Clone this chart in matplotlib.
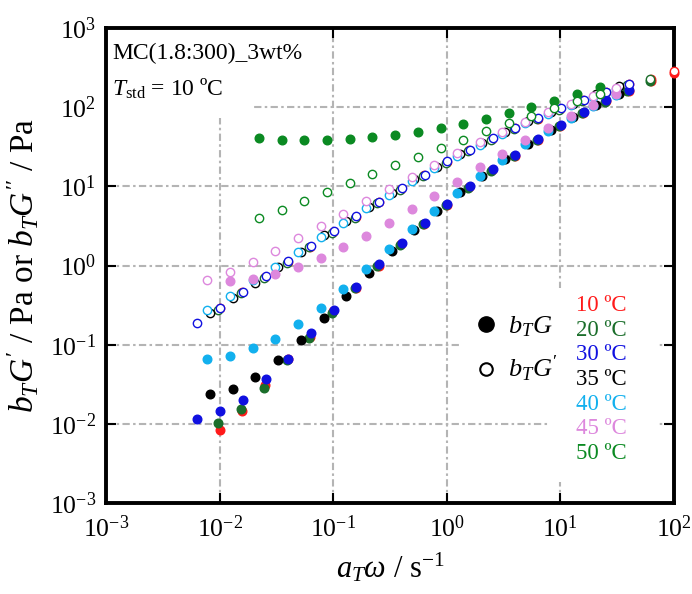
import matplotlib
matplotlib.use('Agg')
import matplotlib.pyplot as plt
from matplotlib.lines import Line2D
from matplotlib.patches import Rectangle
from matplotlib.ticker import FixedLocator, LogFormatterMathtext, NullLocator
import numpy as np

plt.rcParams['font.family'] = ['Liberation Serif', 'DejaVu Serif']
plt.rcParams['mathtext.fontset'] = 'custom'
plt.rcParams['mathtext.rm'] = 'Liberation Serif'
plt.rcParams['mathtext.it'] = 'Liberation Serif:italic'
plt.rcParams['mathtext.bf'] = 'Liberation Serif:bold'

# ---------------- data ----------------
temps = ['10 ºC', '20 ºC', '30 ºC', '35 ºC', '40 ºC', '45 ºC', '50 ºC']
colors = ['#FF1A1A', '#1B6E2B', '#1010E0', '#000000', '#12B0EE', '#DD88DD', '#0B8A22']
x_ticks = [1e-3, 1e-2, 1e-1, 1e0, 1e1, 1e2]
y_ticks = [1e-3, 1e-2, 1e-1, 1e0, 1e1, 1e2, 1e3]

x_10 = [0.0100, 0.0158, 0.0251, 0.0398, 0.0631, 0.100, 0.158, 0.251, 0.398, 0.631, 1.00,
        1.58, 2.51, 3.98, 6.31, 10.0, 15.8, 25.1, 39.8, 63.1, 100]
g1_10 = [0.0084, 0.0146, 0.0308, 0.0654, 0.126, 0.264, 0.522, 1.00, 1.86, 3.35, 5.85,
         9.86, 16.2, 24.4, 38.9, 58.5, 84.5, 118, 161, 213, 272]
g2_10 = [0.291, 0.457, 0.718, 1.11, 1.73, 2.67, 4.12, 6.25, 9.29, 13.8, 20.1,
         28.5, 39.7, 54.0, 71.6, 94.9, 122, 154, 194, 229, 283]

x_20 = [0.00977, 0.0155, 0.0245, 0.0389, 0.0617, 0.0977, 0.155, 0.245, 0.389, 0.617,
        0.977, 1.55, 2.45, 3.89, 6.17, 9.77, 15.5, 24.5, 38.9, 61.7]
g1_20 = [0.0101, 0.0153, 0.0286, 0.0635, 0.120, 0.254, 0.514, 0.982, 1.82, 3.30,
         5.73, 9.66, 15.8, 24.1, 38.4, 57.5, 83.3, 117, 159, 213]
g2_20 = [0.274, 0.445, 0.687, 1.06, 1.71, 2.60, 4.02, 6.10, 9.06, 13.5,
         19.7, 27.9, 38.7, 52.8, 70.0, 92.5, 119, 150, 189, 225]

x_30 = [0.00637, 0.0101, 0.0160, 0.0254, 0.0402, 0.0637, 0.101, 0.160, 0.254, 0.402,
        0.637, 1.01, 1.60, 2.54, 4.02, 6.37, 10.1, 16.0, 25.4, 40.2]
g1_30 = [0.0115, 0.0145, 0.0198, 0.0364, 0.0650, 0.141, 0.272, 0.537, 1.03, 1.91,
         3.44, 6.01, 10.1, 16.6, 25.2, 40.1, 60.1, 86.9, 122, 166]
g2_30 = [0.188, 0.294, 0.462, 0.733, 1.13, 1.76, 2.72, 4.20, 6.38, 9.47,
         14.1, 20.6, 29.1, 40.4, 55.1, 73.1, 96.6, 124, 157, 198]

x_35 = [0.00823, 0.0130, 0.0206, 0.0327, 0.0519, 0.0823, 0.130, 0.206, 0.327, 0.519,
        0.823, 1.30, 2.06, 3.27, 5.19, 8.23, 13.0, 20.6, 32.7]
g1_35 = [0.0240, 0.0279, 0.0388, 0.0636, 0.115, 0.215, 0.416, 0.811, 1.51, 2.80,
         4.85, 8.43, 13.7, 22.2, 34.7, 51.0, 75.2, 108, 148]
g2_35 = [0.249, 0.385, 0.607, 0.955, 1.48, 2.44, 3.60, 5.51, 8.18, 12.2,
         17.6, 25.4, 35.4, 48.6, 67.0, 86.9, 111, 147, 183]

x_40 = [0.00774, 0.0123, 0.0195, 0.0309, 0.0489, 0.0774, 0.123, 0.195, 0.309, 0.489,
        0.774, 1.23, 1.95, 3.09, 4.89, 7.74, 12.3, 19.5, 30.9]
g1_40 = [0.0668, 0.0725, 0.0902, 0.117, 0.181, 0.294, 0.504, 0.893, 1.60, 2.85,
         4.85, 8.28, 13.4, 21.8, 34.3, 49.5, 73.1, 102, 144]
g2_40 = [0.274, 0.411, 0.655, 0.955, 1.48, 2.31, 3.47, 5.25, 7.88, 11.6,
         17.1, 24.3, 33.7, 46.3, 63.2, 82.8, 105, 134, 170]

x_45 = [0.00774, 0.0123, 0.0195, 0.0309, 0.0489, 0.0774, 0.123, 0.195, 0.309, 0.489,
        0.774, 1.23, 1.95, 3.09, 4.89, 7.74, 12.3, 19.5, 30.9]
g1_45 = [np.nan, 0.636, 0.671, 0.780, 0.955, 1.25, 1.71, 2.38, 3.43, 5.10,
         7.59, 11.5, 17.3, 25.9, 38.1, 54.0, 76.6, 108, 147]
g2_45 = [0.655, 0.836, 1.117, 1.537, 2.20, 3.14, 4.50, 6.49, 9.30, 13.2,
         18.7, 26.1, 36.2, 49.1, 64.3, 85.9, 111, 140, 176]

x_50 = [0.0221, 0.0351, 0.0556, 0.0881, 0.140, 0.221, 0.351, 0.556, 0.881, 1.40,
        2.21, 3.51, 5.56, 8.81, 14.0, 22.1]
g1_50 = [40.9, 38.9, 38.1, 38.5, 39.7, 42.5, 44.6, 48.6, 54.7, 61.4,
         71.6, 85.3, 101, 121, 145, 180]
g2_50 = [4.0, 5.06, 6.49, 8.43, 10.9, 14.2, 18.5, 23.6, 30.4, 38.7,
         49.6, 62.5, 78.2, 96.6, 120, 148]

xs = [x_10, x_20, x_30, x_35, x_40, x_45, x_50]
g1s = [g1_10, g1_20, g1_30, g1_35, g1_40, g1_45, g1_50]
g2s = [g2_10, g2_20, g2_30, g2_35, g2_40, g2_45, g2_50]

# ---------------- figure ----------------
fig = plt.figure(figsize=(6.92, 5.94), dpi=100)
ax = fig.add_axes([106/692, 1-503/594, 568/692, 475/594])
ax.set_xscale('log')
ax.set_yscale('log')
ax.set_xlim(1e-3, 1e2)
ax.set_ylim(1e-3, 1e3)

for x, g1, g2, c in zip(xs, g1s, g2s, colors):
    ax.plot(x, g1, 'o', ls='none', color=c, ms=6.2, mec=c, zorder=3, clip_on=False)
    ax.plot(x, g2, 'o', ls='none', mfc='white', mec=c, ms=6.0, mew=1.0, zorder=3,
            clip_on=False)

ax.set_axisbelow(True)
ax.grid(True, which='major', color='#B4B4B4', lw=1.5, ls=(0, (3.5, 1.6, 1.2, 1.6)))

ax.xaxis.set_major_locator(FixedLocator(x_ticks))
ax.yaxis.set_major_locator(FixedLocator(y_ticks))
ax.xaxis.set_minor_locator(NullLocator())
ax.yaxis.set_minor_locator(NullLocator())
ax.xaxis.set_major_formatter(LogFormatterMathtext())
ax.yaxis.set_major_formatter(LogFormatterMathtext())
ax.tick_params(which='major', direction='in', top=True, right=True, length=7, width=1.5,
               labelsize=18.5)
ax.tick_params(axis='x', pad=9)
ax.tick_params(axis='y', pad=7)
for s in ax.spines.values():
    s.set_linewidth(2.8)

ax.set_xlabel(r"$a_T\omega$ / s$^{-1}$", fontsize=22, labelpad=6)
ax.set_ylabel(r"$b_TG'$ / Pa or $b_TG''$ / Pa", fontsize=24, labelpad=6)

# upper-left annotation with white background
ax.add_patch(Rectangle((0, 0.81), 0.257, 0.19, transform=ax.transAxes,
                       facecolor='white', edgecolor='none', zorder=1))
ax.text(0.011, 0.947, 'MC(1.8:300)_3wt%', transform=ax.transAxes, fontsize=17,
        ha='left', va='center', zorder=4)
ax.text(0.011, 0.872, r'$T_{\rm std}$ = 10 ºC', transform=ax.transAxes, fontsize=17,
        ha='left', va='center', zorder=4)

# white boxes behind the legends (they hide the grid)
ax.add_patch(Rectangle(((462-106)/568, 1-(388-28)/475), (560-462)/568, (388-298)/475,
                       transform=ax.transAxes, facecolor='white', edgecolor='none',
                       zorder=1))
ax.add_patch(Rectangle(((549-106)/568, 1-(482-28)/475), (657-549)/568, (482-288)/475,
                       transform=ax.transAxes, facecolor='white', edgecolor='none',
                       zorder=1))

# symbol legend
h1 = [Line2D([], [], marker='o', ls='none', color='k', ms=11),
      Line2D([], [], marker='o', ls='none', mfc='white', mec='k', ms=9, mew=1.5)]
leg1 = ax.legend(h1, [r'$b_TG$', r"$b_TG'$"], loc='upper left',
                 bbox_to_anchor=((468-106)/568, 1-(306-28)/475), fontsize=19,
                 frameon=False, handlelength=0.8, handletextpad=0.4, labelspacing=0.6,
                 borderpad=0.3, borderaxespad=0)
ax.add_artist(leg1)

# temperature legend (text only)
h2 = [Line2D([], [], ls='none') for _ in temps]
leg2 = ax.legend(h2, temps, loc='upper right',
                 bbox_to_anchor=((634-106)/568, 1-(288-28)/475), fontsize=16.5,
                 frameon=False, handlelength=0, handletextpad=0, labelspacing=0.16,
                 borderpad=0.3, borderaxespad=0, labelcolor=colors)

fig.savefig('out.png', dpi=100)
